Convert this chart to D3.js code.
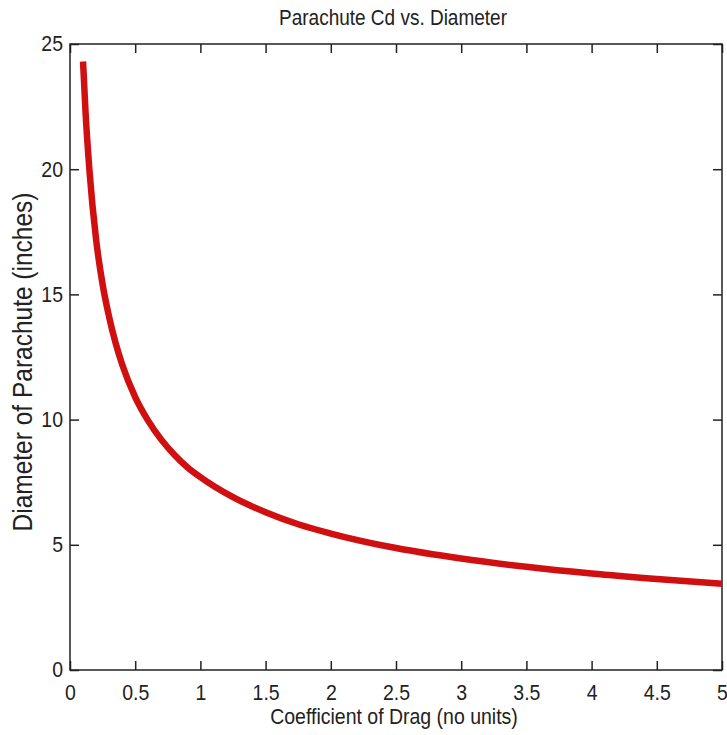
<!DOCTYPE html>
<html>
<head>
<meta charset="utf-8">
<script src="https://cdn.jsdelivr.net/npm/d3@7"></script>
<style>
  body { margin: 0; background: #fff; }
  text { font-family: "Liberation Sans", Arial, sans-serif; fill: #222; }
</style>
</head>
<body>
<div id="chart"></div>
<script>
// values
let cd = [0.1, 0.12, 0.15, 0.2, 0.25, 0.3, 0.35, 0.4, 0.5, 0.6, 0.7, 0.8, 0.9, 1.0,
  1.25, 1.5, 1.75, 2.0, 2.5, 3.0, 3.5, 4.0, 4.5, 5.0]
let diameter = [24.3, 22.2, 19.9, 17.2, 15.4, 14.1, 13.05, 12.2, 10.9, 9.95, 9.2, 8.6, 8.1, 7.7,
  6.9, 6.3, 5.82, 5.45, 4.87, 4.45, 4.12, 3.85, 3.63, 3.44]
let xTicks = [0, 0.5, 1, 1.5, 2, 2.5, 3, 3.5, 4, 4.5, 5]
let yTicks = [0, 5, 10, 15, 20, 25]

let margin = { top: 44, right: 5, bottom: 65, left: 70 },
  width = 727 - margin.left - margin.right,
  height = 735 - margin.top - margin.bottom;

// the original text is tall and narrow, stretch it a bit vertically
const stretch = 1.12

let svg = d3.select("#chart")
  .append("svg")
  .attr("width", 727)
  .attr("height", 735)
  .append("g")
  .attr("transform", "translate(" + margin.left + "," + margin.top + ")");

let xAx = d3.scaleLinear().domain([0, 5]).range([0, width])
let yAx = d3.scaleLinear().domain([0, 25]).range([height, 0])

// bottom / left axes with labels, top / right mirrored ticks only
const tickLen = 9
svg.append("g")
  .attr("transform", "translate(0," + height + ")")
  .call(d3.axisBottom(xAx).tickValues(xTicks).tickFormat(d3.format("")).tickSizeInner(-tickLen).tickSizeOuter(0).tickPadding(13))
svg.append("g")
  .call(d3.axisTop(xAx).tickValues(xTicks).tickFormat("").tickSizeInner(-tickLen).tickSizeOuter(0))
svg.append("g")
  .call(d3.axisLeft(yAx).tickValues(yTicks).tickSizeInner(-tickLen).tickSizeOuter(0).tickPadding(7))
svg.append("g")
  .attr("transform", "translate(" + width + ",0)")
  .call(d3.axisRight(yAx).tickValues(yTicks).tickFormat("").tickSizeInner(-tickLen).tickSizeOuter(0))

svg.selectAll(".domain").remove()
svg.selectAll(".tick line").attr("stroke", "#222").attr("stroke-width", 1.5)
svg.selectAll(".tick text")
  .style("font-size", "19.5px")
  .attr("fill", "#333")
  .attr("transform", "scale(1," + stretch + ")")

svg.append("rect")
  .attr("width", width)
  .attr("height", height)
  .attr("fill", "none")
  .attr("stroke", "#222")
  .attr("stroke-width", 1.5)

let line = d3.line()
  .x((d, i) => xAx(d))
  .y((d, i) => yAx(diameter[i]))
  .curve(d3.curveMonotoneX)
svg.append("path")
  .datum(cd)
  .attr("d", line)
  .attr("fill", "none")
  .attr("stroke", "#d01010")
  .attr("stroke-width", 6.5)

svg.append("text")
  .attr("transform", "translate(" + (width / 2 - 3) + ",-19) scale(1," + stretch + ")")
  .attr("text-anchor", "middle")
  .style("font-size", "19px")
  .text("Parachute Cd vs. Diameter")

svg.append("text")
  .attr("transform", "translate(" + (width / 2 - 2) + "," + (height + 54) + ") scale(1," + stretch + ")")
  .attr("text-anchor", "middle")
  .style("font-size", "19.5px")
  .text("Coefficient of Drag (no units)")

svg.append("text")
  .attr("transform", "translate(-38," + (height / 2 + 5) + ") rotate(-90) scale(1," + stretch + ")")
  .attr("text-anchor", "middle")
  .style("font-size", "24.5px")
  .text("Diameter of Parachute (inches)")
</script>
</body>
</html>
